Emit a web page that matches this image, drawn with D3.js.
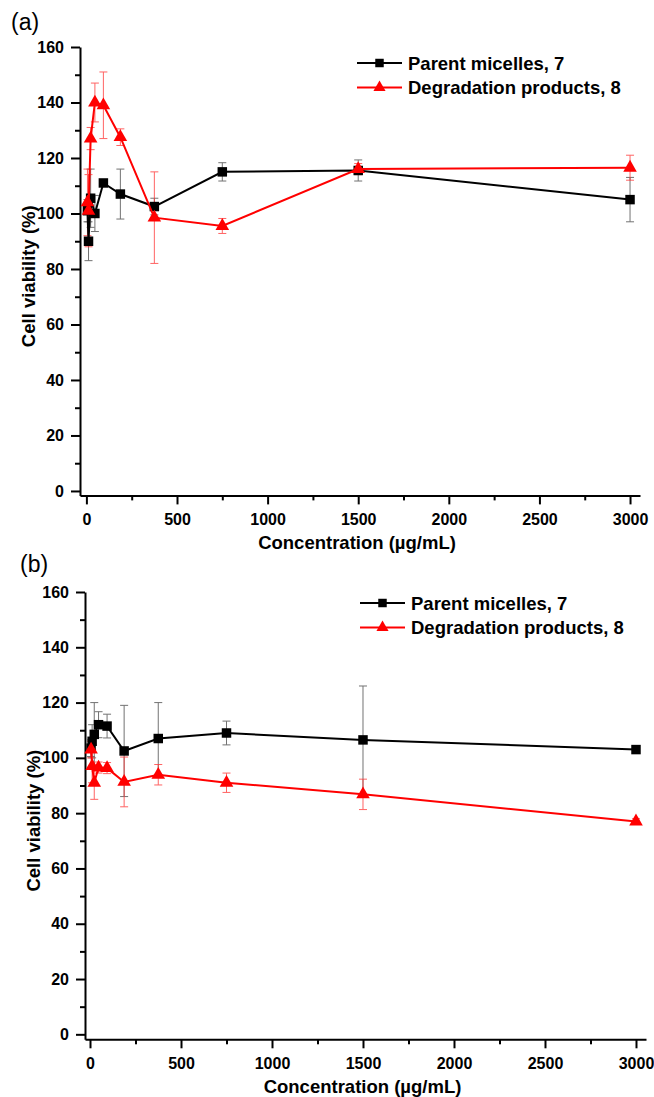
<!DOCTYPE html>
<html>
<head>
<meta charset="utf-8">
<script src="https://cdn.jsdelivr.net/npm/d3@7"></script>
<style>
    body { margin: 0; background: #fff; }
    svg { display: block; font-family: "Liberation Sans", Arial, sans-serif; }
</style>
</head>
<body>
<svg id="chart" width="654" height="1097"></svg>
<script>
// concentrations (ug/mL)
let conc = [5.86, 11.7, 23.4, 46.9, 93.75, 187.5, 375, 750, 1500, 3000];
let xTicks = [0, 500, 1000, 1500, 2000, 2500, 3000];
let xMinor = [250, 750, 1250, 1750, 2250, 2750];
let yTicks = [0, 20, 40, 60, 80, 100, 120, 140, 160];
let yMinor = [10, 30, 50, 70, 90, 110, 130, 150];
let seriesNames = ["Parent micelles, 7", "Degradation products, 8"];

// panel (a)
let aParent = [101, 90, 105.5, 100, 111, 107, 102.5, 115, 115.5, 105];
let aParentErr = [4, 7, 10.5, 6.5, 1, 9, 3, 3.3, 3.8, 8];
let aDegr = [104, 101, 127, 140, 139, 127.5, 98.5, 95.5, 116, 116.5];
let aDegrErr = [12, 13, 4, 7, 12, 3, 16.5, 2.7, 2, 4.5];

// panel (b)
let bParent = [103.5, 106, 108.5, 112, 111.5, 102.5, 107, 109, 106.5, 103];
let bParentErr = [3, 6, 11.5, 4.7, 4.3, 16.5, 13, 4.3, 19.5, 1];
let bDegr = [103, 97, 91, 96.5, 96.3, 91.3, 93.9, 91, 86.8, 77];
let bDegrErr = [3, 6, 6, 2, 2, 9, 3.7, 3.5, 5.5, 1];

let svg = d3.select("#chart");

function toPoints(vals, errs) {
    return conc.map((c, i) => ({ x: c, y: vals[i], e: errs[i] }));
}

function renderPanel(cfg) {
    let xScale = d3.scaleLinear().domain(cfg.xDomain).range(cfg.xRange);
    let yScale = d3.scaleLinear().domain(cfg.yDomain).range(cfg.yRange);
    let axisY = yScale(cfg.yDomain[0]);
    let axisX = xScale(cfg.xDomain[0]);

    let g = svg.append("g");

    // x axis
    g.append("g")
        .attr("transform", "translate(0," + axisY + ")")
        .call(d3.axisBottom(xScale).tickValues(xTicks).tickFormat(d3.format("d"))
            .tickSize(9).tickSizeOuter(0).tickPadding(9));
    g.append("g")
        .attr("transform", "translate(0," + axisY + ")")
        .call(d3.axisBottom(xScale).tickValues(xMinor).tickSize(5).tickFormat(""))
        .select(".domain").remove();

    // y axis
    g.append("g")
        .attr("transform", "translate(" + axisX + ",0)")
        .call(d3.axisLeft(yScale).tickValues(yTicks).tickFormat(d3.format("d"))
            .tickSize(9).tickSizeOuter(0).tickPadding(7));
    g.append("g")
        .attr("transform", "translate(" + axisX + ",0)")
        .call(d3.axisLeft(yScale).tickValues(yMinor).tickSize(5).tickFormat(""))
        .select(".domain").remove();

    g.selectAll(".domain").attr("stroke", "#000").attr("stroke-width", 2);
    g.selectAll(".tick line").attr("stroke", "#000").attr("stroke-width", 2);
    g.selectAll(".tick text")
        .attr("fill", "#000")
        .attr("font-size", "16px")
        .attr("font-weight", "bold")
        .attr("font-family", "Liberation Sans, Arial, sans-serif");

    // titles
    let xMid = (xScale.range()[0] + xScale.range()[1]) / 2;
    g.append("text")
        .attr("x", xMid - 3)
        .attr("y", axisY + 54)
        .attr("text-anchor", "middle")
        .attr("font-size", "18.5px")
        .attr("font-weight", "bold")
        .text("Concentration (\u00b5g/mL)");

    let yMid = (yScale.range()[0] + yScale.range()[1]) / 2 + 5;
    g.append("text")
        .attr("transform", "translate(" + (axisX - 45) + "," + yMid + ") rotate(-90)")
        .attr("text-anchor", "middle")
        .attr("font-size", "18.5px")
        .attr("font-weight", "bold")
        .text("Cell viability (%)");

    g.append("text")
        .attr("x", cfg.labelPos[0])
        .attr("y", cfg.labelPos[1])
        .attr("font-size", "23px")
        .text(cfg.label);

    let series = [
        { pts: toPoints(cfg.parent, cfg.parentErr), color: "#000", err: "#444", sym: d3.symbolSquare, size: 90 },
        { pts: toPoints(cfg.degr, cfg.degrErr), color: "#ff0000", err: "#ff3030", sym: d3.symbolTriangle, size: 80 }
    ];

    let line = d3.line().x(d => xScale(d.x)).y(d => yScale(d.y));

    series.forEach(s => {
        let eg = g.append("g").attr("stroke", s.err).attr("stroke-width", 1).attr("opacity", 0.75);
        eg.selectAll(".bar").data(s.pts).enter().append("line")
            .attr("x1", d => xScale(d.x)).attr("x2", d => xScale(d.x))
            .attr("y1", d => yScale(d.y - d.e)).attr("y2", d => yScale(d.y + d.e));
        [-1, 1].forEach(k => {
            eg.selectAll(".cap" + k).data(s.pts).enter().append("line")
                .attr("x1", d => xScale(d.x) - 4).attr("x2", d => xScale(d.x) + 4)
                .attr("y1", d => yScale(d.y + k * d.e)).attr("y2", d => yScale(d.y + k * d.e));
        });
    });

    series.forEach(s => {
        g.append("path")
            .datum(s.pts)
            .attr("d", line)
            .attr("fill", "none")
            .attr("stroke", s.color)
            .attr("stroke-width", 2);
        g.selectAll(".m").data(s.pts).enter().append("path")
            .attr("d", d3.symbol().type(s.sym).size(s.size))
            .attr("transform", d => "translate(" + xScale(d.x) + "," + yScale(d.y) + ")")
            .attr("fill", s.color);
    });

    // legend
    let lg = g.append("g").attr("transform", "translate(" + cfg.legendPos[0] + "," + cfg.legendPos[1] + ")");
    series.forEach((s, i) => {
        let row = lg.append("g").attr("transform", "translate(0," + (i * 24.5) + ")");
        row.append("line").attr("x1", 0).attr("x2", 45).attr("y1", 0).attr("y2", 0)
            .attr("stroke", s.color).attr("stroke-width", 2);
        row.append("path")
            .attr("d", d3.symbol().type(s.sym).size(s.size * 0.8))
            .attr("transform", "translate(22.5,0)")
            .attr("fill", s.color);
        row.append("text")
            .attr("x", 51)
            .attr("y", 6.5)
            .attr("font-size", "18.5px")
            .attr("font-weight", "bold")
            .text(seriesNames[i]);
    });
}

renderPanel({
    label: "(a)", labelPos: [11, 30],
    xDomain: [-35.3, 3055], xRange: [80, 640],
    yDomain: [-1.6, 160], yRange: [495.4, 47],
    parent: aParent, parentErr: aParentErr, degr: aDegr, degrErr: aDegrErr,
    legendPos: [357, 63]
});

renderPanel({
    label: "(b)", labelPos: [20, 572],
    xDomain: [-27.5, 3055], xRange: [85, 646],
    yDomain: [-1.8, 160], yRange: [1039.3, 592],
    parent: bParent, parentErr: bParentErr, degr: bDegr, degrErr: bDegrErr,
    legendPos: [360, 603]
});
</script>
</body>
</html>
